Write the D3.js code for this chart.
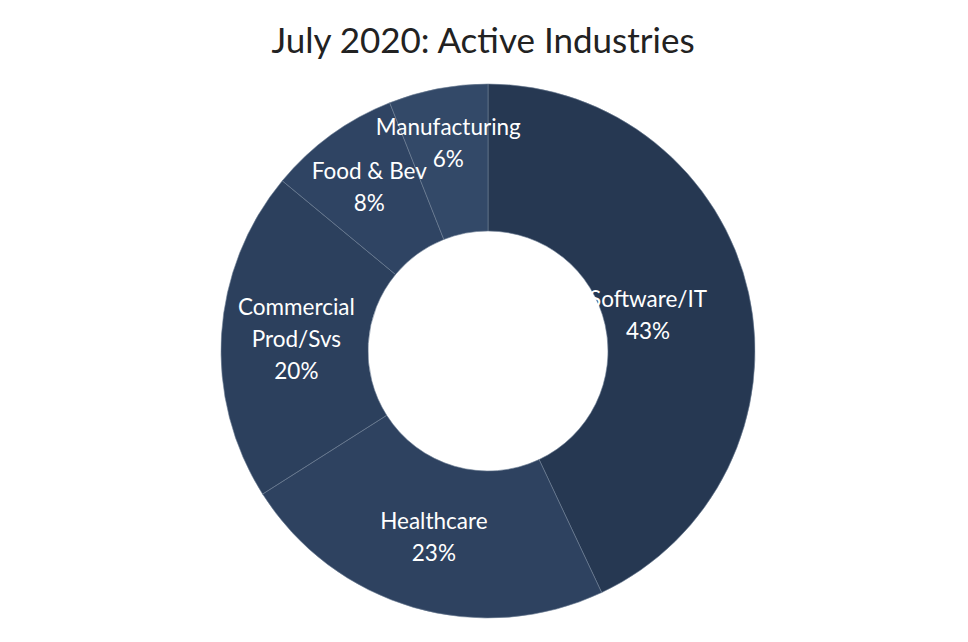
<!DOCTYPE html>
<html>
<head>
<meta charset="utf-8">
<script src="https://cdn.jsdelivr.net/npm/d3@7"></script>
<style>
  body { margin: 0; background: #fff; }
  text { font-family: Lato, "Open Sans", sans-serif; }
</style>
</head>
<body>
<div id="chart"></div>
<script>
// data
const industries = ["Software/IT", "Healthcare", "Commercial Prod/Svs", "Food & Bev", "Manufacturing"];
const shares = [43, 23, 20, 8, 6];
const sliceColors = ["#263852", "#2e4260", "#2c405d", "#2f4463", "#334968"];

const width = 968, height = 642;
const cx = 488, cy = 351;
const outerR = 267, innerR = 120;
// label line breaks & label distance from centre
const labelLines = [["Software/IT"], ["Healthcare"], ["Commercial", "Prod/Svs"], ["Food & Bev"], ["Manufacturing"]];
const labelR = [164, 194, 192, 202, 212];

const svg = d3.select("#chart").append("svg")
    .attr("width", width)
    .attr("height", height);

svg.append("text")
    .attr("x", 483)
    .attr("y", 53)
    .attr("text-anchor", "middle")
    .style("font-size", "35px")
    .attr("fill", "#222")
    .text("July 2020: Active Industries");

const pie = d3.pie().sort(null).value(d => d);
const arcs = pie(shares);

const arc = d3.arc().innerRadius(innerR).outerRadius(outerR);

const g = svg.append("g")
    .attr("transform", "translate(" + cx + "," + cy + ")");

g.selectAll("path.slice")
    .data(arcs)
    .enter().append("path")
    .attr("class", "slice")
    .attr("d", arc)
    .attr("fill", (d, i) => sliceColors[i])
    .attr("stroke", "#6f7f96")
    .attr("stroke-width", 0.6);

const labels = g.selectAll("g.label")
    .data(arcs)
    .enter().append("g")
    .attr("class", "label")
    .attr("transform", (d, i) => {
        let c = d3.arc().innerRadius(labelR[i]).outerRadius(labelR[i]).centroid(d);
        return "translate(" + c[0] + "," + c[1] + ")";
    });

labels.each(function (d, i) {
    let lines = labelLines[i].concat([shares[i] + "%"]);
    let lh = 32;
    let top = -(lines.length - 1) * lh / 2;
    let t = d3.select(this).append("text")
        .attr("text-anchor", "middle")
        .attr("fill", "#fff")
        .style("font-size", "22.5px");
    lines.forEach((l, k) => {
        t.append("tspan")
            .attr("x", 0)
            .attr("y", top + k * lh)
            .attr("dy", "0.35em")
            .text(l);
    });
});
</script>
</body>
</html>
